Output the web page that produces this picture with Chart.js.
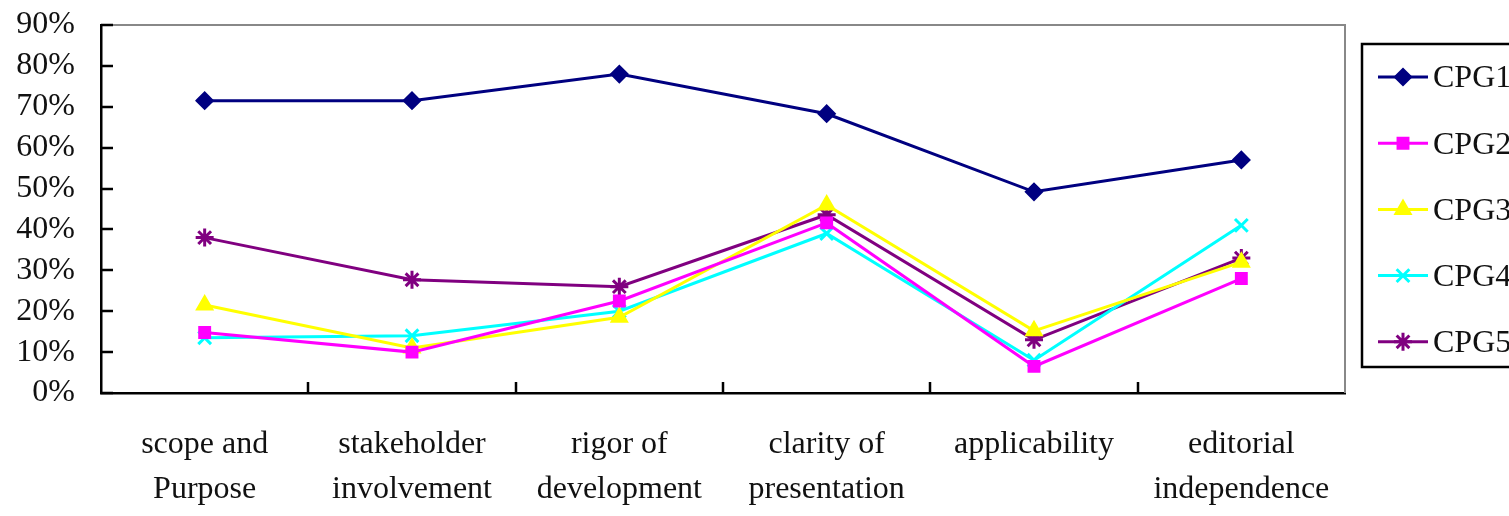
<!DOCTYPE html>
<html>
<head>
<meta charset="utf-8">
<script src="https://cdn.jsdelivr.net/npm/chart.js@4"></script>
<style>
  html, body { margin: 0; padding: 0; background: #fff; }
  #wrap { width: 1509px; height: 516px; }
</style>
</head>
<body>
<div id="wrap"><canvas id="cpgChart" width="1509" height="516"></canvas></div>
<script>
// domain labels (two lines each)
const categories = [
    ['scope and', 'Purpose'],
    ['stakeholder', 'involvement'],
    ['rigor of', 'development'],
    ['clarity of', 'presentation'],
    ['applicability'],
    ['editorial', 'independence']
];

// scores in %
const cpg1 = [71.5, 71.5, 78, 68.3, 49.2, 57];
const cpg2 = [14.8, 10, 22.5, 41.6, 6.5, 28];
const cpg3 = [21.5, 11, 18.5, 46, 15.2, 32];
const cpg4 = [13.5, 14, 20, 39, 8, 41];
const cpg5 = [38, 27.7, 26, 43.6, 13, 33];

const seriesNames = ['CPG1', 'CPG2', 'CPG3', 'CPG4', 'CPG5'];
const yTicks = [0, 10, 20, 30, 40, 50, 60, 70, 80, 90];

const FONT = "'Liberation Serif', 'Times New Roman', serif";

const styles = [
    { color: '#000080', point: 'rectRot', r: 7.5 },
    { color: '#ff00ff', point: 'rect', r: 7 },
    { color: '#ffff00', point: 'triangle', r: 8 },
    { color: '#00ffff', point: 'crossRot', r: 9 },
    { color: '#800080', point: 'star', r: 9 }
];

const datasets = [cpg1, cpg2, cpg3, cpg4, cpg5].map((values, i) => ({
    label: seriesNames[i],
    data: values,
    borderColor: styles[i].color,
    backgroundColor: styles[i].color,
    pointBackgroundColor: styles[i].color,
    pointBorderColor: styles[i].color,
    pointStyle: styles[i].point,
    pointRadius: styles[i].r,
    pointBorderWidth: 3,
    borderWidth: 3,
    tension: 0,
    fill: false
}));

// frame, inner tick marks and boxed legend
const framePlugin = {
    id: 'frameAndLegend',
    afterDraw(chart) {
        const { ctx, chartArea: a, scales } = chart;
        ctx.save();

        // top and right border (grey)
        ctx.strokeStyle = '#888';
        ctx.lineWidth = 2;
        ctx.beginPath();
        ctx.moveTo(a.left, a.top);
        ctx.lineTo(a.right, a.top);
        ctx.lineTo(a.right, a.bottom);
        ctx.stroke();

        // y tick marks pointing inward
        ctx.strokeStyle = '#000';
        ctx.lineWidth = 2.5;
        ctx.beginPath();
        yTicks.forEach(v => {
            const y = Math.round(scales.y.getPixelForValue(v));
            ctx.moveTo(a.left, y);
            ctx.lineTo(a.left + 12, y);
        });
        // x tick marks between categories
        for (let i = 0; i < categories.length - 1; i++) {
            const x = Math.round((scales.x.getPixelForTick(i) + scales.x.getPixelForTick(i + 1)) / 2);
            ctx.moveTo(x, a.bottom);
            ctx.lineTo(x, a.bottom - 11);
        }
        ctx.stroke();

        // legend box
        const boxLeft = 1362, boxTop = 44, boxBottom = 367;
        ctx.strokeStyle = '#000';
        ctx.lineWidth = 2.5;
        ctx.strokeRect(boxLeft, boxTop, 1530 - boxLeft, boxBottom - boxTop);

        ctx.font = '32px ' + FONT;
        ctx.textBaseline = 'middle';
        chart.data.datasets.forEach((ds, i) => {
            const y = 77 + i * 66.2;
            ctx.strokeStyle = ds.borderColor;
            ctx.lineWidth = 3;
            ctx.beginPath();
            ctx.moveTo(1378, y);
            ctx.lineTo(1428, y);
            ctx.stroke();
            ctx.fillStyle = ds.pointBackgroundColor;
            ctx.strokeStyle = ds.pointBorderColor;
            Chart.helpers.drawPoint(ctx, { pointStyle: ds.pointStyle, radius: ds.pointRadius, borderWidth: 3 }, 1403, y);
            ctx.fillStyle = '#111';
            ctx.fillText(ds.label, 1433, y + 2);
        });
        ctx.restore();
    }
};

new Chart(document.getElementById('cpgChart'), {
    type: 'line',
    data: { labels: categories, datasets },
    options: {
        responsive: false,
        animation: false,
        devicePixelRatio: 1,
        layout: { padding: { top: 25, right: 164, left: 0, bottom: 0 } },
        scales: {
            x: {
                offset: true,
                grid: { display: false, drawTicks: false },
                border: { display: true, color: '#000', width: 2.5 },
                ticks: {
                    color: '#111',
                    padding: 30,
                    maxRotation: 0,
                    autoSkip: false,
                    font: { family: FONT, size: 32, lineHeight: 1.38 }
                },
                afterFit(scale) {
                    scale.height = 123;
                    scale.paddingLeft = 0;
                    scale.paddingRight = 0;
                }
            },
            y: {
                min: 0,
                max: 90,
                grid: { display: false, drawTicks: false },
                border: { display: true, color: '#000', width: 2.5 },
                afterBuildTicks(scale) { scale.ticks = yTicks.map(v => ({ value: v })); },
                ticks: {
                    color: '#111',
                    padding: 26,
                    autoSkip: false,
                    callback: v => v + '%',
                    font: { family: FONT, size: 32 }
                },
                afterFit(scale) {
                    scale.width = 101;
                    scale.paddingTop = 0;
                    scale.paddingBottom = 0;
                }
            }
        },
        plugins: {
            legend: { display: false },
            tooltip: { enabled: false }
        }
    },
    plugins: [framePlugin]
});
</script>
</body>
</html>
